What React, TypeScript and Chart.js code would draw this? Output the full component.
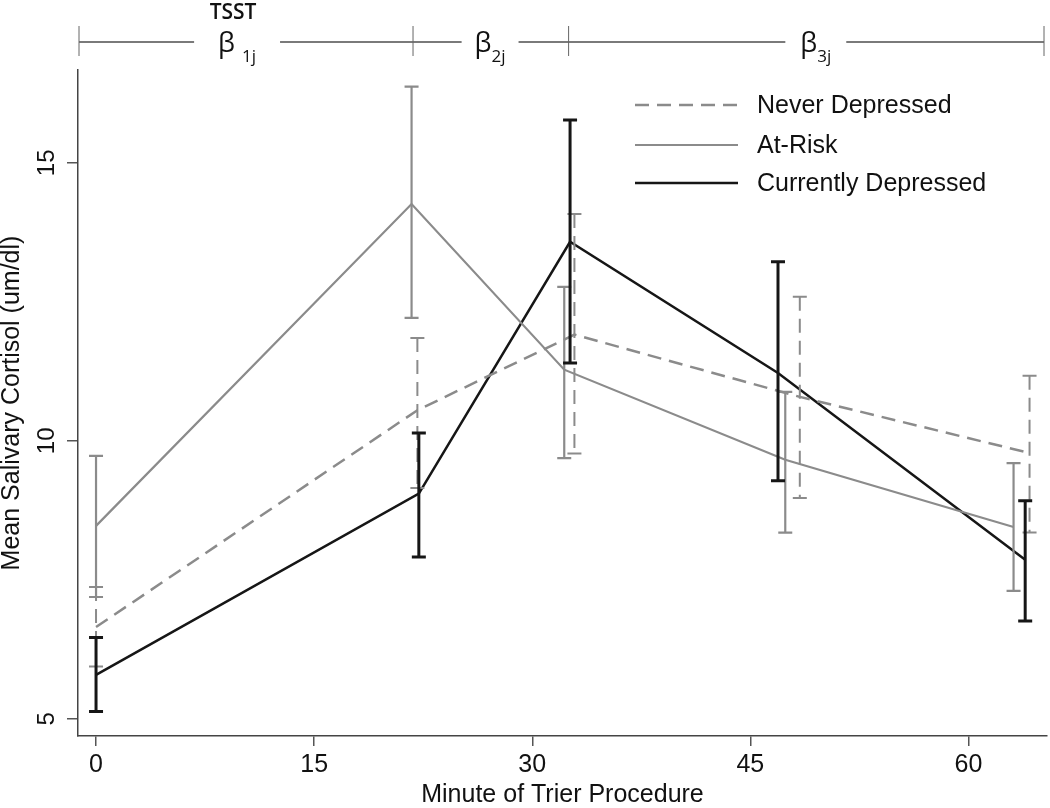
import React, { useEffect, useRef } from "react";
import { Chart, registerables } from "chart.js";

Chart.register(...registerables);

// ---- data ----
const xTicks = [0, 15, 30, 45, 60];
const yTicks = [5, 10, 15];

const seriesLabels = ["Never Depressed", "At-Risk", "Currently Depressed"];

const neverX = [0, 22.1, 32.9, 48.4, 64.2];
const neverMean = [6.65, 10.55, 11.91, 10.79, 9.78];
const neverLo = [5.94, 9.15, 9.77, 8.97, 8.35];
const neverHi = [7.37, 11.85, 14.08, 12.59, 11.17];

const riskX = [0, 21.7, 32.2, 47.4, 63.1];
const riskMean = [8.47, 14.26, 11.28, 9.66, 8.45];
const riskLo = [7.19, 12.21, 9.69, 8.35, 7.3];
const riskHi = [9.73, 16.37, 12.77, 10.88, 9.6];

const currX = [0, 22.2, 32.6, 46.9, 63.9];
const currMean = [5.79, 9.05, 13.58, 11.22, 7.86];
const currLo = [5.13, 7.91, 11.4, 9.28, 6.76];
const currHi = [6.46, 10.14, 15.77, 13.22, 8.92];

const phaseBounds = [21.8, 32.5];
const phaseLabelX = [9.7, 27.1, 49.5];
const phaseSubs = ["1j", "2j", "3j"];
const phaseTopLabel = "TSST";

const xTitle = "Minute of Trier Procedure";
const yTitle = "Mean Salivary Cortisol (um/dl)";

const FONT = "'Liberation Sans', Arial, Helvetica, sans-serif";
const GREY = "#8b8b8b";
const BLACK = "#161616";
const TEXT = "#111";

const toPts = (xs: number[], ys: number[]) => xs.map((x, i) => ({ x, y: ys[i] }));

const errorBarPlugin = {
  id: "errorBars",
  afterDatasetsDraw(chart: any) {
    const { ctx } = chart;
    const xs = chart.scales.x;
    const ys = chart.scales.y;
    chart.data.datasets.forEach((ds: any) => {
      ctx.save();
      ctx.strokeStyle = ds.borderColor;
      ctx.lineWidth = ds.errWidth;
      ds.data.forEach((p: any, i: number) => {
        const x = xs.getPixelForValue(p.x);
        const yH = ys.getPixelForValue(ds.errHi[i]);
        const yL = ys.getPixelForValue(ds.errLo[i]);
        ctx.setLineDash(ds.borderDash || []);
        ctx.beginPath();
        ctx.moveTo(x, yH);
        ctx.lineTo(x, yL);
        ctx.stroke();
        ctx.setLineDash([]);
        ctx.beginPath();
        ctx.moveTo(x - 7, yH);
        ctx.lineTo(x + 7, yH);
        ctx.moveTo(x - 7, yL);
        ctx.lineTo(x + 7, yL);
        ctx.stroke();
      });
      ctx.restore();
    });
  },
};

const legendPlugin = {
  id: "customLegend",
  afterDraw(chart: any) {
    const { ctx } = chart;
    const rowsY = [105, 145, 183];
    ctx.save();
    chart.data.datasets.forEach((ds: any, i: number) => {
      const y = rowsY[i];
      ctx.strokeStyle = ds.borderColor;
      ctx.lineWidth = ds.borderWidth;
      ctx.setLineDash(ds.borderDash || []);
      ctx.beginPath();
      ctx.moveTo(635, y);
      ctx.lineTo(738, y);
      ctx.stroke();
      ctx.setLineDash([]);
      ctx.fillStyle = TEXT;
      ctx.font = `25px ${FONT}`;
      ctx.textBaseline = "middle";
      ctx.textAlign = "left";
      ctx.fillText(ds.label, 757, y + 1);
    });
    ctx.restore();
  },
};

const phasePlugin = {
  id: "phases",
  afterDraw(chart: any) {
    const { ctx } = chart;
    const xs = chart.scales.x;
    const yLine = 42;
    const left = chart.chartArea.left + 1;
    const right = chart.chartArea.right - 3;
    const pads = [24, 13, 15];
    ctx.save();
    const betaFont = `27px 'Open Sans', ${FONT}`;
    const subFont = `17px 'Open Sans', ${FONT}`;
    const labels = phaseLabelX.map((v, i) => {
      const cx = xs.getPixelForValue(v);
      const betaTxt = i === 0 ? "β " : "β";
      ctx.font = betaFont;
      const bw = ctx.measureText(betaTxt).width;
      ctx.font = subFont;
      const sw = ctx.measureText(phaseSubs[i]).width;
      return { cx, betaTxt, bw, sw, w: bw + sw };
    });
    const pts = [left];
    labels.forEach((l, i) => {
      pts.push(l.cx - l.w / 2 - pads[i]);
      pts.push(l.cx + l.w / 2 + pads[i]);
    });
    pts.push(right);
    ctx.strokeStyle = "#7a7a7a";
    ctx.lineWidth = 2;
    ctx.beginPath();
    for (let k = 0; k < pts.length; k += 2) {
      ctx.moveTo(pts[k], yLine);
      ctx.lineTo(pts[k + 1], yLine);
    }
    ctx.stroke();
    ctx.lineWidth = 1;
    ctx.strokeStyle = "#666";
    const bounds = [left, ...phaseBounds.map((b) => xs.getPixelForValue(b)), right];
    ctx.beginPath();
    bounds.forEach((bx) => {
      ctx.moveTo(bx, 26);
      ctx.lineTo(bx, 56);
    });
    ctx.stroke();
    ctx.fillStyle = TEXT;
    ctx.textBaseline = "alphabetic";
    ctx.textAlign = "left";
    labels.forEach((l, i) => {
      const x0 = l.cx - l.w / 2;
      ctx.font = betaFont;
      ctx.fillText(l.betaTxt, x0, 52);
      ctx.font = subFont;
      ctx.fillText(phaseSubs[i], x0 + l.bw, 62);
    });
    ctx.font = `600 21px 'Open Sans', ${FONT}`;
    ctx.textAlign = "center";
    ctx.fillText(phaseTopLabel, labels[0].cx - 4, 19);
    ctx.restore();
  },
};

export default function App() {
  const ref = useRef<HTMLCanvasElement>(null);

  useEffect(() => {
    if (!ref.current) return;
    const chart = new Chart(ref.current, {
      type: "line",
      data: {
        datasets: [
          {
            label: seriesLabels[0],
            data: toPts(neverX, neverMean),
            borderColor: GREY,
            borderWidth: 2.5,
            borderDash: [14, 8],
            errLo: neverLo,
            errHi: neverHi,
            errWidth: 2,
          } as any,
          {
            label: seriesLabels[1],
            data: toPts(riskX, riskMean),
            borderColor: GREY,
            borderWidth: 2.2,
            errLo: riskLo,
            errHi: riskHi,
            errWidth: 2.2,
          } as any,
          {
            label: seriesLabels[2],
            data: toPts(currX, currMean),
            borderColor: BLACK,
            borderWidth: 2.5,
            errLo: currLo,
            errHi: currHi,
            errWidth: 3,
          } as any,
        ],
      },
      options: {
        animation: false,
        responsive: false,
        devicePixelRatio: 1,
        layout: { padding: { top: 70, right: 3, left: 0, bottom: 0 } },
        elements: { point: { radius: 0, hoverRadius: 0 }, line: { tension: 0 } },
        plugins: { legend: { display: false }, tooltip: { enabled: false } },
        scales: {
          x: {
            type: "linear",
            min: -1.24,
            max: 65.4,
            afterBuildTicks: (s: any) => {
              s.ticks = xTicks.map((v) => ({ value: v }));
            },
            afterFit: (s: any) => {
              s.height = 72;
            },
            grid: { display: true, drawOnChartArea: false, drawTicks: true, tickLength: 10, color: "#555", lineWidth: 1.5 },
            border: { display: true, color: "#444", width: 1.5 },
            ticks: { font: { family: FONT, size: 25 }, color: TEXT, padding: 4, maxRotation: 0, autoSkip: false },
            title: { display: true, text: xTitle, font: { family: FONT, size: 25, lineHeight: 1 }, color: TEXT, padding: 0 },
          },
          y: {
            type: "linear",
            min: 4.69,
            max: 16.67,
            afterBuildTicks: (s: any) => {
              s.ticks = yTicks.map((v) => ({ value: v }));
            },
            afterFit: (s: any) => {
              s.width = 78;
            },
            grid: { display: true, drawOnChartArea: false, drawTicks: true, tickLength: 11, color: "#555", lineWidth: 1.5 },
            border: { display: true, color: "#444", width: 1.5 },
            ticks: { font: { family: FONT, size: 24 }, color: TEXT, padding: 6, minRotation: 90, maxRotation: 90, crossAlign: "center", autoSkip: false },
            title: { display: true, text: yTitle, font: { family: FONT, size: 25, lineHeight: 1 }, color: TEXT, padding: 0 },
          },
        },
      } as any,
      plugins: [errorBarPlugin, legendPlugin, phasePlugin],
    });
    return () => chart.destroy();
  }, []);

  return (
    <div style={{ position: "fixed", left: 0, top: 0, width: 1050, height: 808, background: "#fff" }}>
      <canvas ref={ref} width={1050} height={808} style={{ display: "block" }} />
    </div>
  );
}
